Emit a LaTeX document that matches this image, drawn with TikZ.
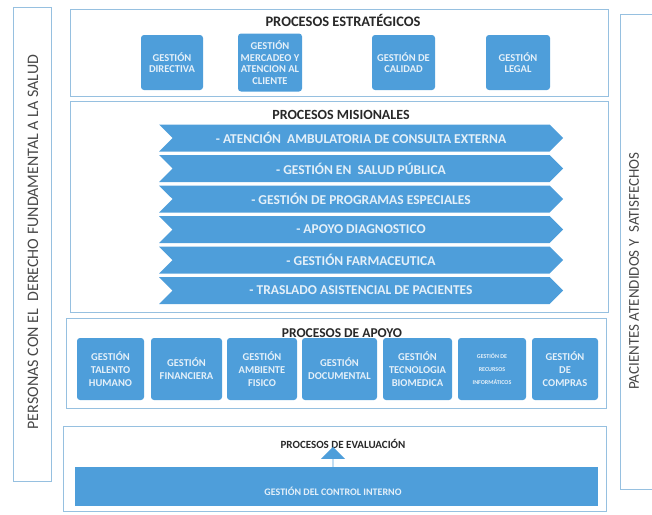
\documentclass[tikz,border=0pt]{standalone}
\usepackage{fontspec}
\setmainfont{Carlito}
\usepackage{tikz}
\definecolor{procblue}{RGB}{78,158,218}
\definecolor{framelin}{RGB}{150,192,224}
\definecolor{titlegray}{RGB}{40,40,40}
\tikzset{>=latex,
    panel/.style={draw=framelin, line width=0.7pt, inner sep=0pt},
    procbox/.style={fill=procblue, rounded corners=3pt, text=white!85!procblue, align=center,
      font=\bfseries\fontsize{10.5}{11.5}\selectfont, inner sep=1pt},
    mision/.style={signal, signal from=west, signal to=east, signal pointer angle=90,
      fill=procblue, text=white!85!procblue, font=\bfseries\fontsize{13.5}{14}\selectfont,
      minimum width=404, minimum height=27, inner sep=0pt},
    paneltitle/.style={font=\bfseries\fontsize{14.5}{15}\selectfont, text=titlegray},
    sidetext/.style={rotate=90, font=\fontsize{16}{17}\selectfont, text=titlegray!85}}
\usetikzlibrary{shapes.arrows,shapes.symbols}

\begin{document}
\begin{tikzpicture}[x=1pt, y=-1pt]
  \useasboundingbox (0,0) rectangle (652,514);
  \clip (0,0) rectangle (652,514);
  % side columns
  \node[panel, minimum width=38, minimum height=474] (left) at (32,244) {};
  \node[sidetext] (lefttxt) at (33,242) {PERSONAS CON EL \ DERECHO FUNDAMENTAL A LA SALUD};
  \node[panel, minimum width=40, minimum height=475] (right) at (640,252) {};
  \node[sidetext, font=\fontsize{15}{16}\selectfont] (righttxt) at (634,271) {PACIENTES ATENDIDOS Y \ SATISFECHOS};

  % estrategicos
  \node[panel, minimum width=538, minimum height=87] (estr) at (339,52.5) {};
  \node[paneltitle] (estrtitle) at (343,20) {PROCESOS ESTRATÉGICOS};
  \foreach \x/\w/\h/\txt [count=\i] in {
      172/62/55/{GESTIÓN\\DIRECTIVA},
      270/64/58/{GESTIÓN\\MERCADEO Y\\ATENCION AL\\CLIENTE},
      403.5/63/55/{GESTIÓN DE\\CALIDAD},
      518/64/55/{GESTIÓN\\LEGAL}} {
    \node[procbox, minimum width=\w, minimum height=\h] (estr\i) at (\x,62.5) {\txt};
  }

  % misionales
  \node[panel, minimum width=538, minimum height=211] (mis) at (339,206.5) {};
  \node[paneltitle, font=\bfseries\fontsize{14}{15}\selectfont] (mistitle) at (341,115) {PROCESOS MISIONALES};
  \foreach \txt [count=\i] in {
      {- ATENCIÓN \ AMBULATORIA DE CONSULTA EXTERNA},
      {- GESTIÓN EN \ SALUD PÚBLICA},
      {- GESTIÓN DE PROGRAMAS ESPECIALES},
      {- APOYO DIAGNOSTICO},
      {- GESTIÓN FARMACEUTICA},
      {- TRASLADO ASISTENCIAL DE PACIENTES}} {
    \node[mision] (mis\i) at (361,107.5+30.5*\i) {\txt};
  }

  % apoyo
  \node[panel, minimum width=540, minimum height=90] (apoyo) at (336,363) {};
  \node[paneltitle, font=\bfseries\fontsize{13.5}{14}\selectfont] (apoyotitle) at (342,333) {PROCESOS DE APOYO};
  \foreach \x/\w/\txt [count=\i] in {
      110.5/67/{GESTIÓN\\TALENTO\\HUMANO},
      186.5/71/{GESTIÓN\\FINANCIERA},
      262/70/{GESTIÓN\\AMBIENTE\\FISICO},
      339.5/75/{GESTIÓN\\DOCUMENTAL},
      417.5/69/{GESTIÓN\\TECNOLOGIA\\BIOMEDICA},
      492/68/{\fontsize{6}{7.5}\selectfont GESTIÓN DE\\\fontsize{6}{7.5}\selectfont RECURSOS\\\fontsize{6}{7.5}\selectfont INFORMÁTICOS},
      565/66/{GESTIÓN\\DE\\COMPRAS}} {
    \node[procbox, font=\bfseries\fontsize{10.5}{13}\selectfont, minimum width=\w, minimum height=62] (apoyo\i) at (\x,369) {\txt};
  }

  % evaluacion
  \node[panel, minimum width=543, minimum height=85] (eval) at (334.5,468.5) {};
  \node[paneltitle, font=\bfseries\fontsize{11}{12}\selectfont] (evaltitle) at (343,444) {PROCESOS DE EVALUACIÓN};
  \node[fill=procblue, minimum width=523, minimum height=39, inner sep=0pt] (bar) at (336.5,486.5) {};
  \node[text=white!85!procblue, font=\bfseries\fontsize{10}{11}\selectfont] (bartxt) at (333,491) {GESTIÓN DEL CONTROL INTERNO};
  \node[single arrow, fill=procblue, shape border rotate=90, minimum width=24, minimum height=23,
    single arrow head extend=6, inner sep=0pt, anchor=tail] (uparr) at (333,470) {};
\end{tikzpicture}
\end{document}
